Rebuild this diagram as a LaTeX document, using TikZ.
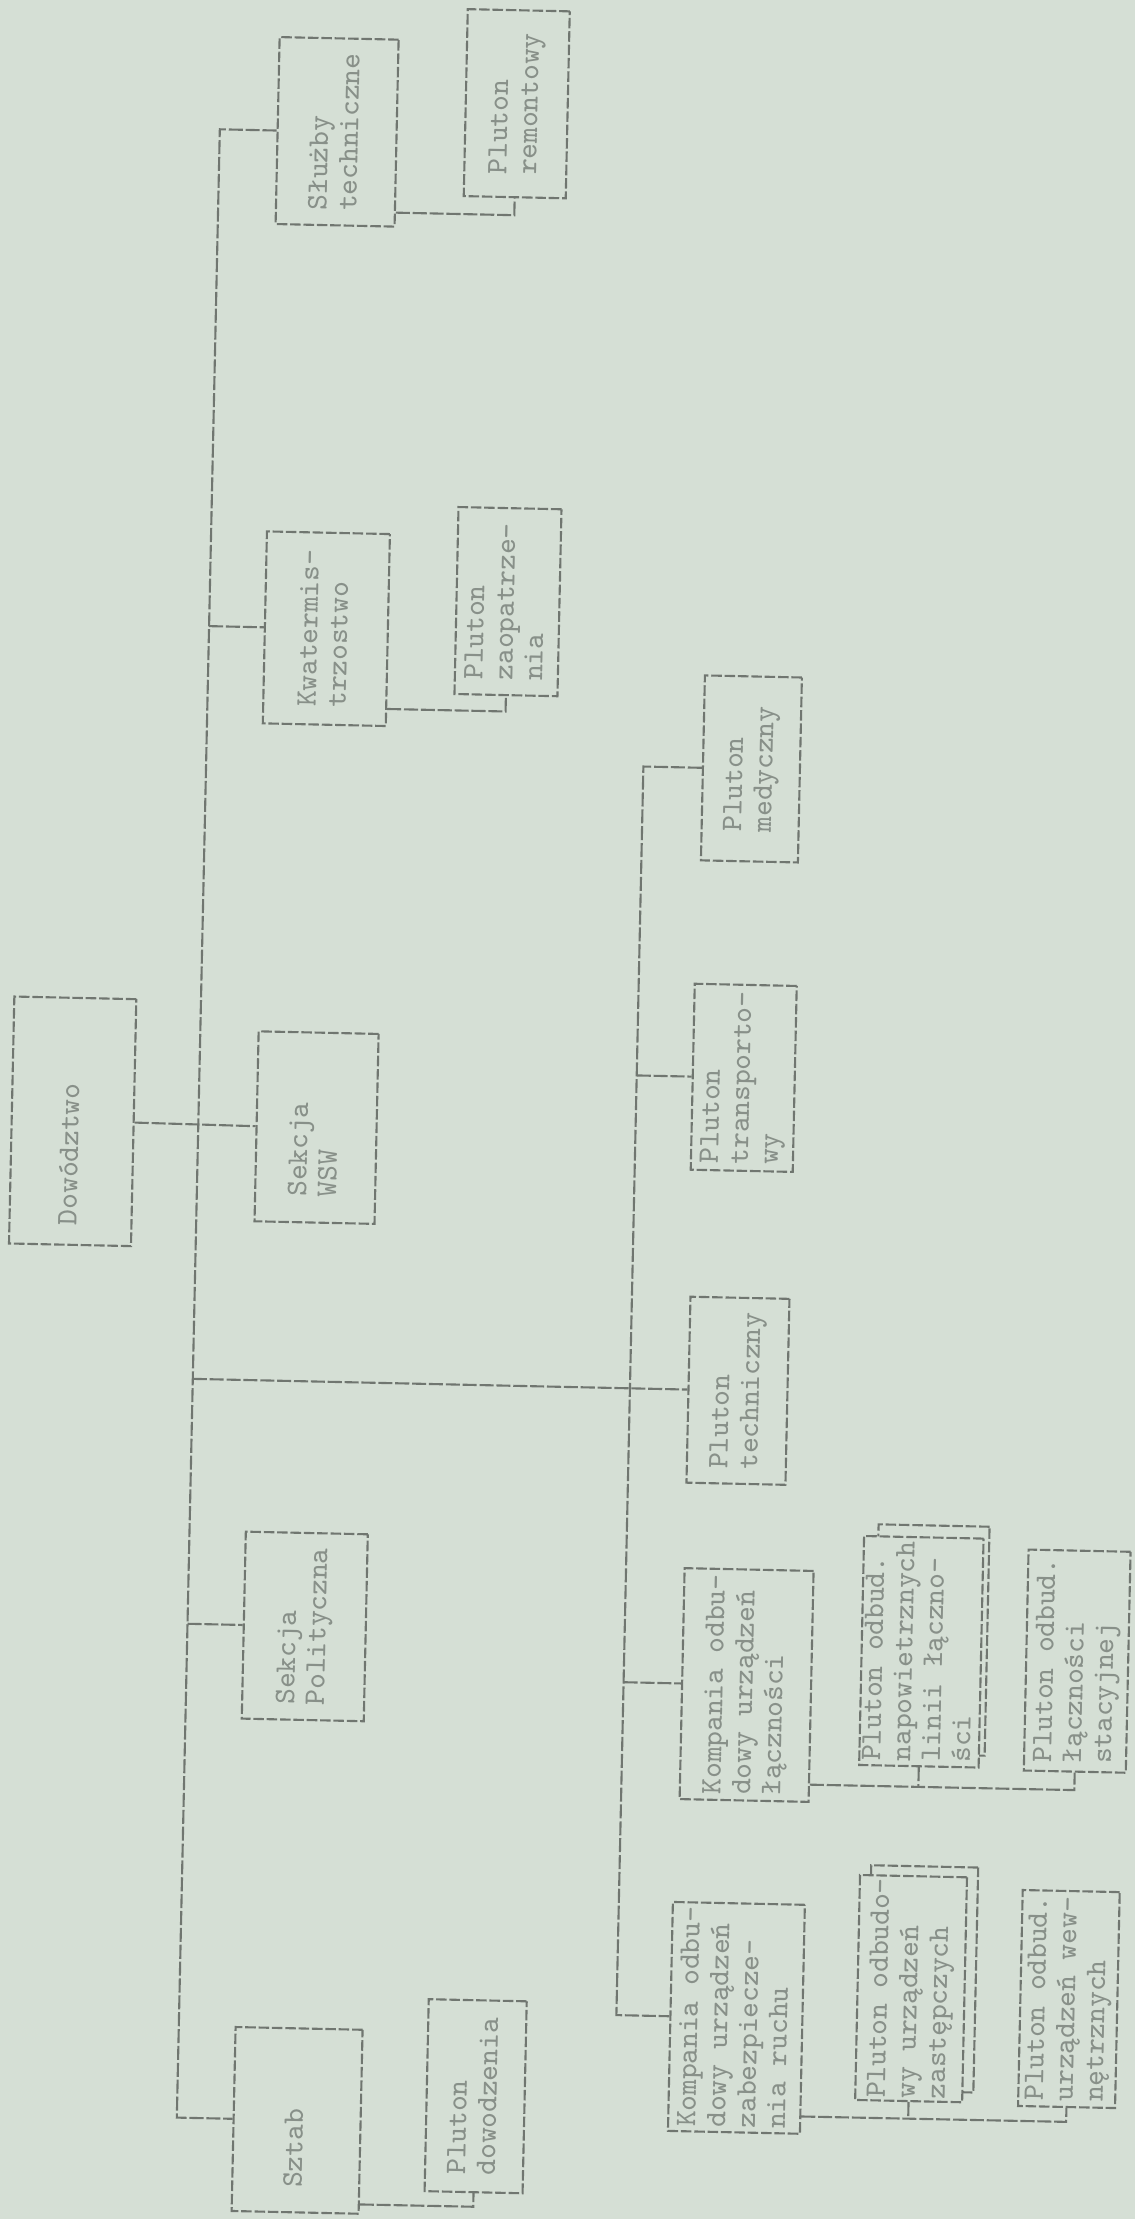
\documentclass[tikz,border=0pt]{standalone}
\usepackage{fontspec}
\usepackage{graphicx}
\usetikzlibrary{calc}
\definecolor{paper}{RGB}{213,223,213}
\definecolor{pencil}{RGB}{112,118,112}
\definecolor{typed}{RGB}{136,144,137}
% typed text reads from bottom to top
\newcommand{\vtxt}[1]{\rotatebox{90}{\begin{tabular}{@{}l@{}}#1\end{tabular}}}

\begin{document}
\begin{tikzpicture}[
    box/.style={draw=pencil, line width=0.6pt, dash pattern=on 3pt off 0.8pt, inner sep=0pt,
        transform shape, font=\ttfamily\fontsize{8.5}{8.5}\selectfont, text=typed},
    sheet/.style={box, fill=paper},
    link/.style={draw=pencil, line width=0.6pt, dash pattern=on 4pt off 0.8pt}
]
\fill[paper] (0,0) rectangle (11.35,-22.19);
\useasboundingbox (0,0) rectangle (11.35,-22.19);

\begin{scope}[rotate around={-1.24:(5.67,-11.10)}]
% first column
\node[box, minimum width=1.22cm, minimum height=2.47cm] (dow) at (0.73,-11.32) {\vtxt{Dowództwo\kern0.66cm}};
\node[box, minimum width=1.19cm, minimum height=1.87cm] (sluzby) at (3.16,-1.37) {\vtxt{Służby\\techniczne}};
\node[box, minimum width=1.23cm, minimum height=1.92cm] (kwater) at (3.16,-6.34) {\vtxt{Kwatermis-\\trzostwo}};
\node[box, minimum width=1.20cm, minimum height=1.90cm] (wsw) at (3.17,-11.33) {\vtxt{Sekcja\kern0.44cm\\WSW}};
\node[box, minimum width=1.22cm, minimum height=1.87cm] (polit) at (3.16,-16.32) {\vtxt{Sekcja\\Polityczna}};
\node[box, minimum width=1.27cm, minimum height=1.84cm] (sztab) at (3.19,-21.26) {\vtxt{Sztab\kern0.56cm}};

% plutony pod sluzbami, kwatermistrzostwem, sztabem
\node[box, minimum width=1.02cm, minimum height=1.87cm] (premont) at (4.95,-1.05) {\vtxt{Pluton\\remontowy}};
\node[box, minimum width=1.03cm, minimum height=1.87cm] (pzaop) at (4.97,-6.03) {\vtxt{Pluton\\zaopatrze-\\nia}};
\node[box, minimum width=0.98cm, minimum height=1.92cm] (pdow) at (4.97,-20.98) {\vtxt{Pluton\\dowodzenia}};

% second column
\node[box, minimum width=0.97cm, minimum height=1.85cm] (pmed) at (7.44,-7.65) {\vtxt{Pluton\\medyczny}};
\node[box, minimum width=1.02cm, minimum height=1.86cm] (ptrans) at (7.43,-10.74) {\vtxt{Pluton\\transporto-\\wy}};
\node[box, minimum width=0.99cm, minimum height=1.86cm] (ptech) at (7.44,-13.87) {\vtxt{Pluton\\techniczny}};
\node[box, minimum width=1.29cm, minimum height=2.31cm] (kompl) at (7.59,-16.81) {\vtxt{Kompania odbu-\\dowy urządzeń\\łączności}};
\node[box, minimum width=1.32cm, minimum height=2.29cm] (kompr) at (7.56,-20.14) {\vtxt{Kompania odbu-\\dowy urządzeń\\zabezpiecze-\\nia ruchu}};

% plutony kompanii
\node[box, minimum width=1.11cm, minimum height=2.29cm] (napowbk) at (9.43,-16.32) {};
\node[sheet, minimum width=1.11cm, minimum height=2.29cm] (napow) at (9.33,-16.44) {\vtxt{Pluton odbud.\\napowietrznych\\linii łączno-\\ści}};
\node[box, minimum width=1.02cm, minimum height=2.21cm] (stacyj) at (10.89,-16.50) {\vtxt{Pluton odbud.\\łączności\\stacyjnej}};
\node[box, minimum width=1.07cm, minimum height=2.25cm] (zabezpbk) at (9.41,-19.71) {};
\node[sheet, minimum width=1.07cm, minimum height=2.25cm] (zabezp) at (9.30,-19.81) {\vtxt{Pluton odbudo-\\wy urządzeń\\zastępczych}};
\node[box, minimum width=0.97cm, minimum height=2.16cm] (wew) at (10.88,-19.88) {\vtxt{Pluton odbud.\\urządzeń wew-\\nętrznych}};

% main line
\coordinate (ta) at (1.987,0);
\coordinate (tb) at (1.987,-22);
\draw[link] (sluzby.west) -- ($(ta)!(sluzby.west)!(tb)$) -- ($(ta)!(sztab.west)!(tb)$) -- (sztab.west);
\foreach \n in {kwater,polit,ptech}
    \draw[link] ($(ta)!(\n.west)!(tb)$) -- (\n.west);
\draw[link] (dow.east) -- (wsw.west);

% line of the plutony
\coordinate (sa) at (6.36,0);
\coordinate (sb) at (6.36,-22);
\draw[link] (pmed.west) -- ($(sa)!(pmed.west)!(sb)$) -- ($(sa)!(kompr.west)!(sb)$) -- (kompr.west);
\foreach \n in {ptrans,kompl}
    \draw[link] ($(sa)!(\n.west)!(sb)$) -- (\n.west);

% single subordinates
\foreach \parent/\child/\off in {sluzby/premont/0.15cm, kwater/pzaop/0.18cm, sztab/pdow/0.10cm}{
    \coordinate (a-\parent) at ($(\parent.south east)!\off!(\parent.north east)$);
    \coordinate (b-\parent) at ($(a-\parent)+(\parent.south east)-(\parent.south west)$);
    \draw[link] (a-\parent) -- ($(a-\parent)!(\child.south)!(b-\parent)$) -- (\child.south);
}
% two subordinates
\foreach \parent/\child/\last in {kompl/napow/stacyj, kompr/zabezp/wew}{
    \coordinate (a-\parent) at ($(\parent.south east)!0.18cm!(\parent.north east)$);
    \coordinate (b-\parent) at ($(a-\parent)+(\parent.south east)-(\parent.south west)$);
    \draw[link] (a-\parent) -- ($(a-\parent)!(\last.south)!(b-\parent)$) -- (\last.south);
    \draw[link] (\child.south) -- ($(a-\parent)!(\child.south)!(b-\parent)$);
}
\end{scope}
\end{tikzpicture}
\end{document}
